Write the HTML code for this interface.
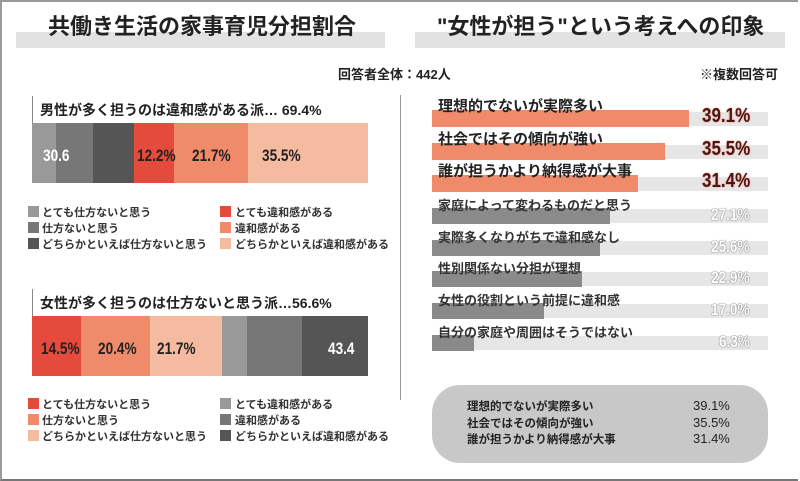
<!DOCTYPE html>
<html><head><meta charset="utf-8"><style>
body{margin:0;width:800px;height:481px;overflow:hidden;background:#fff;font-family:"Liberation Sans","Noto Sans CJK JP",sans-serif;}
#f{position:absolute;left:0;top:0;width:796px;height:477px;border:2px solid #9a9a9a;border-right:none;border-bottom:2px solid #777;}
.a{position:absolute;white-space:nowrap;}
.t{font-weight:bold;font-size:22px;color:#222;}
.b{font-weight:bold;}
.sq{position:absolute;width:11px;height:11px;}
.lg{position:absolute;font-size:11px;font-weight:bold;color:#333;white-space:nowrap;}
.n{font-family:"Liberation Sans Narrow","Liberation Sans",sans-serif;font-weight:bold;font-size:17px;transform:scaleX(.8);transform-origin:left;}
.pr{font-family:"Liberation Sans Narrow","Liberation Sans",sans-serif;font-weight:bold;font-size:20px;color:#4a1515;text-shadow:0 0 2px #f7b0a0,0 0 2px #f7b0a0;transform:scaleX(.85);transform-origin:left;}
.pg{font-family:"Liberation Sans Narrow","Liberation Sans",sans-serif;font-weight:bold;font-size:17px;color:#fff;text-shadow:0 0 1px #777,0 0 1px #777,0 0 1px #777;transform:scaleX(.8);transform-origin:left;}
.lb{font-weight:bold;font-size:13px;color:#333;}
</style></head><body>
<div id="f"></div>
<div class="a" style="left:16px;top:32px;width:369px;height:16px;background:#e2e2e2"></div>
<div class="a t" style="left:48px;top:9px">共働き生活の家事育児分担割合</div>
<div class="a" style="left:415px;top:32px;width:370px;height:16px;background:#e2e2e2"></div>
<div class="a t" style="left:437px;top:9px">"女性が担う"という考えへの印象</div>
<div class="a b" style="left:338px;top:64px;font-size:13px;color:#222">回答者全体：442人</div>
<div class="a b" style="left:700px;top:64px;font-size:13px;color:#222">※複数回答可</div>

<div class="a" style="left:32px;top:96px;width:1px;height:28px;background:#888"></div>
<div class="a b" style="left:40px;top:100px;font-size:14px;color:#222">男性が多く担うのは違和感がある派… 69.4%</div>
<div class="a" style="left:32px;top:123px;width:24px;height:60px;background:#999"></div>
<div class="a" style="left:56px;top:123px;width:37px;height:60px;background:#777"></div>
<div class="a" style="left:93px;top:123px;width:41px;height:60px;background:#555"></div>
<div class="a" style="left:134px;top:123px;width:40px;height:60px;background:#e54b3c"></div>
<div class="a" style="left:174px;top:123px;width:74px;height:60px;background:#ef8a6a"></div>
<div class="a" style="left:248px;top:123px;width:120px;height:60px;background:#f5bba0"></div>
<div class="a n" style="left:43px;top:146px;color:#fff">30.6</div>
<div class="a n" style="left:137px;top:146px;color:#222">12.2%</div>
<div class="a n" style="left:192px;top:146px;color:#222">21.7%</div>
<div class="a n" style="left:262px;top:146px;color:#222">35.5%</div>
<div class="sq" style="left:28px;top:206px;background:#999"></div><div class="lg" style="left:42px;top:204px">とても仕方ないと思う</div>
<div class="sq" style="left:28px;top:222px;background:#777"></div><div class="lg" style="left:42px;top:220px">仕方ないと思う</div>
<div class="sq" style="left:28px;top:238px;background:#555"></div><div class="lg" style="left:42px;top:236px">どちらかといえば仕方ないと思う</div>
<div class="sq" style="left:220px;top:206px;background:#e54b3c"></div><div class="lg" style="left:235px;top:204px">とても違和感がある</div>
<div class="sq" style="left:220px;top:222px;background:#ef8a6a"></div><div class="lg" style="left:235px;top:220px">違和感がある</div>
<div class="sq" style="left:220px;top:238px;background:#f5bba0"></div><div class="lg" style="left:235px;top:236px">どちらかといえば違和感がある</div>

<div class="a" style="left:32px;top:289px;width:1px;height:28px;background:#888"></div>
<div class="a b" style="left:40px;top:293px;font-size:14px;color:#222">女性が多く担うのは仕方ないと思う派…56.6%</div>
<div class="a" style="left:32px;top:316px;width:49px;height:60px;background:#e54b3c"></div>
<div class="a" style="left:81px;top:316px;width:69px;height:60px;background:#ef8a6a"></div>
<div class="a" style="left:150px;top:316px;width:72px;height:60px;background:#f5bba0"></div>
<div class="a" style="left:222px;top:316px;width:25px;height:60px;background:#999"></div>
<div class="a" style="left:247px;top:316px;width:55px;height:60px;background:#777"></div>
<div class="a" style="left:302px;top:316px;width:66px;height:60px;background:#555"></div>
<div class="a n" style="left:41px;top:339px;color:#222">14.5%</div>
<div class="a n" style="left:98px;top:339px;color:#222">20.4%</div>
<div class="a n" style="left:157px;top:339px;color:#222">21.7%</div>
<div class="a n" style="left:328px;top:339px;color:#fff">43.4</div>
<div class="sq" style="left:28px;top:398px;background:#e54b3c"></div><div class="lg" style="left:42px;top:396px">とても仕方ないと思う</div>
<div class="sq" style="left:28px;top:414px;background:#ef8a6a"></div><div class="lg" style="left:42px;top:412px">仕方ないと思う</div>
<div class="sq" style="left:28px;top:430px;background:#f5bba0"></div><div class="lg" style="left:42px;top:428px">どちらかといえば仕方ないと思う</div>
<div class="sq" style="left:220px;top:398px;background:#999"></div><div class="lg" style="left:235px;top:396px">とても違和感がある</div>
<div class="sq" style="left:220px;top:414px;background:#777"></div><div class="lg" style="left:235px;top:412px">違和感がある</div>
<div class="sq" style="left:220px;top:430px;background:#555"></div><div class="lg" style="left:235px;top:428px">どちらかといえば違和感がある</div>

<div class="a" style="left:400px;top:95px;width:1px;height:305px;background:#999"></div>

<div class="a" style="left:432px;top:112px;width:336px;height:14px;background:#e6e6e6"></div>
<div class="a" style="left:432px;top:110px;width:257px;height:17px;background:#ef8a6a"></div>
<div class="a b" style="left:438px;top:95px;font-size:15px;color:#222">理想的でないが実際多い</div>
<div class="a pr" style="left:702px;top:105px">39.1%</div>

<div class="a" style="left:432px;top:145px;width:336px;height:14px;background:#e6e6e6"></div>
<div class="a" style="left:432px;top:143px;width:233px;height:17px;background:#ef8a6a"></div>
<div class="a b" style="left:438px;top:128px;font-size:15px;color:#222">社会ではその傾向が強い</div>
<div class="a pr" style="left:702px;top:138px">35.5%</div>

<div class="a" style="left:432px;top:177px;width:336px;height:14px;background:#e6e6e6"></div>
<div class="a" style="left:432px;top:175px;width:206px;height:17px;background:#ef8a6a"></div>
<div class="a b" style="left:438px;top:160px;font-size:15px;color:#222">誰が担うかより納得感が大事</div>
<div class="a pr" style="left:702px;top:170px">31.4%</div>

<div class="a" style="left:432px;top:209px;width:336px;height:14px;background:#e6e6e6"></div>
<div class="a" style="left:432px;top:208px;width:178px;height:16px;background:#8a8a8a"></div>
<div class="a lb" style="left:438px;top:195px">家庭によって変わるものだと思う</div>
<div class="a pg" style="left:711px;top:205px">27.1%</div>

<div class="a" style="left:432px;top:241px;width:336px;height:14px;background:#e6e6e6"></div>
<div class="a" style="left:432px;top:240px;width:168px;height:16px;background:#8a8a8a"></div>
<div class="a lb" style="left:438px;top:227px">実際多くなりがちで違和感なし</div>
<div class="a pg" style="left:711px;top:237px">25.6%</div>

<div class="a" style="left:432px;top:272px;width:336px;height:14px;background:#e6e6e6"></div>
<div class="a" style="left:432px;top:271px;width:150px;height:16px;background:#8a8a8a"></div>
<div class="a lb" style="left:438px;top:258px">性別関係ない分担が理想</div>
<div class="a pg" style="left:711px;top:268px">22.9%</div>

<div class="a" style="left:432px;top:304px;width:336px;height:14px;background:#e6e6e6"></div>
<div class="a" style="left:432px;top:303px;width:112px;height:16px;background:#8a8a8a"></div>
<div class="a lb" style="left:438px;top:290px">女性の役割という前提に違和感</div>
<div class="a pg" style="left:711px;top:300px">17.0%</div>

<div class="a" style="left:432px;top:336px;width:336px;height:14px;background:#e6e6e6"></div>
<div class="a" style="left:432px;top:335px;width:42px;height:16px;background:#8a8a8a"></div>
<div class="a lb" style="left:438px;top:322px">自分の家庭や周囲はそうではない</div>
<div class="a pg" style="left:719px;top:332px">6.3%</div>

<div class="a" style="left:432px;top:385px;width:336px;height:78px;background:#c8c8c8;border-radius:28px"></div>
<div class="a b" style="left:467px;top:399px;font-size:11.5px;color:#222;line-height:16.5px">理想的でないが実際多い<br>社会ではその傾向が強い<br>誰が担うかより納得感が大事</div>
<div class="a" style="left:693px;top:398px;font-size:13px;color:#222;line-height:16.5px">39.1%<br>35.5%<br>31.4%</div>
</body></html>
